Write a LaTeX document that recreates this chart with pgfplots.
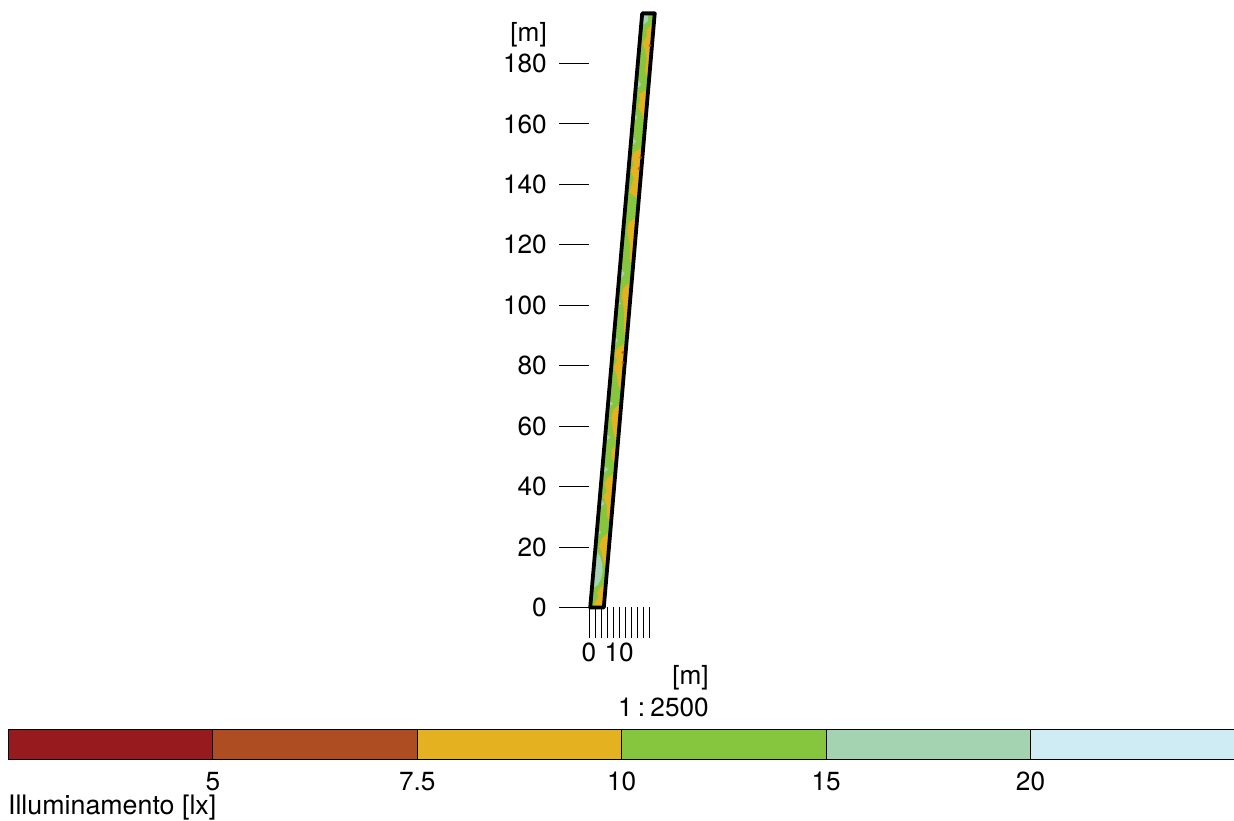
\documentclass[border=0pt]{standalone}
\usepackage{pgfplots}
\pgfplotsset{compat=1.18}
\usepackage{fontspec}
\setmainfont{TeX Gyre Heros}
\definecolor{c1}{HTML}{961A1E}
\definecolor{c2}{HTML}{AE4D22}
\definecolor{c3}{HTML}{E4B121}
\definecolor{c4}{HTML}{86C63F}
\definecolor{c5}{HTML}{A3D3B0}
\definecolor{c6}{HTML}{CFEBF3}
\newcommand{\bigf}{\fontsize{26.2}{31}\selectfont}
\newcommand{\labf}{\fontsize{26.8}{31}\selectfont}
\begin{document}
\begin{tikzpicture}[x=1pt,y=1pt]
\useasboundingbox (0,0) rectangle (1234,821);
\begin{axis}[
  at={(589pt,213.5pt)}, anchor=south west,
  x=3.022pt, y=3.022pt,
  xmin=0, xmax=22, ymin=0, ymax=196.6,
  clip=false,
  axis line style={draw=none},
  tick align=outside, tick pos=left,
  major tick length=30pt,
  tick style={black, line width=1pt},
  xtick={0,2,4,6,8,10,12,14,16,18,20},
  xticklabels={0,,,,,10,,,,,},
  ytick={0,20,40,60,80,100,120,140,160,180},
  /pgf/number format/assume math mode=true,
  tick label style={font=\bigf},
  yticklabel style={inner sep=0pt, xshift=-12pt},
  xticklabel style={inner sep=0pt, yshift=-5.5pt},
]
\addplot[fill=c4, draw=none] coordinates {(0.4,0)(4.9,0)(21.75,196.6)(17.6,196.6)} --cycle;
% orange contours
\addplot[fill=c3, draw=none] coordinates {(21.39,193.6)(19.01,190.9)(19.17,189.0)(17.64,186.6)(18.77,184.3)(19.04,181.7)(18.54,177.7)(19.69,173.7)} --cycle;
\addplot[fill=c3, draw=none] coordinates {(19.52,171.7)(16.53,169.8)(17.03,167.8)(16.19,165.8)(17.62,163.1)(18.47,159.5)} --cycle;
\addplot[fill=c3, draw=none] coordinates {(17.87,152.5)(14.89,150.6)(14.06,148.6)(14.87,146.6)(13.71,144.6)(14.82,142.0)(13.92,139.3)(13.42,137.3)(16.37,135.0)} --cycle;
\addplot[fill=c3, draw=none] coordinates {(15.89,129.4)(13.23,127.4)(12.68,124.8)(13.11,122.1)(13.58,119.8)(13.37,115.5)(14.42,112.2)} --cycle;
\addplot[fill=c3, draw=none] coordinates {(14.07,108.2)(11.36,105.6)(10.80,102.9)(11.27,100.6)(11.67,97.6)(11.5,91.7)(12.38,88.4)} --cycle;
\addplot[fill=c3, draw=none] coordinates {(12.32,87.7)(9.32,85.7)(8.49,83.7)(9.31,81.7)(8.15,79.7)(9.23,76.8)(9.61,73.5)(10.89,71.1)} --cycle;
\addplot[fill=c3, draw=none] coordinates {(10.61,67.8)(7.90,65.2)(7.34,62.5)(7.78,59.9)(8.21,57.2)(9.39,53.6)} --cycle;
\addplot[fill=c3, draw=none] coordinates {(9.48,54.6)(7.43,52.0)(7.54,49.3)(8.83,47.0)} --cycle;
\addplot[fill=c3, draw=none] coordinates {(8.63,44.7)(5.97,42.7)(5.14,40.7)(5.97,38.7)(4.80,36.7)(5.88,33.8)(5.92,30.4)(7.12,27.1)} --cycle;
\addplot[fill=c3, draw=none] coordinates {(6.99,25.5)(4.26,22.8)(3.38,20.2)(4.21,18.2)(4.65,15.6)(5.85,12.2)} --cycle;
\addplot[fill=c3, draw=none] coordinates {(5.48,7.9)(3.7,6.5)(2.7,5.0)(3.1,3.5)(2.0,1.5)(1.4,0)(4.8,0)} --cycle;
% light contours
\addplot[fill=c5, draw=none] coordinates {(17.67,196.2)(19.6,196.2)(19.44,194.0)(17.33,192.3)} --cycle;
\addplot[fill=c5, draw=none] coordinates {(15.81,175.0)(17.27,173.1)(15.47,171.1)} --cycle;
\addplot[fill=c5, draw=none] coordinates {(14.83,163.8)(15.98,162.1)(14.54,160.5)} --cycle;
\addplot[fill=c5, draw=none] coordinates {(14.14,155.9)(15.59,154.2)(13.84,152.5)} --cycle;
\addplot[fill=c5, draw=none] coordinates {(10.34,112.5)(11.79,110.5)(9.97,108.2)} --cycle;
\addplot[fill=c5, draw=none] coordinates {(9.39,101.6)(10.6,100.6)(9.22,99.6)} --cycle;
\addplot[fill=c5, draw=none] coordinates {(8.38,90.0)(9.54,88.4)(8.09,86.7)} --cycle;
\addplot[fill=c5, draw=none] coordinates {(6.49,68.5)(8.01,67.5)(6.29,66.2)} --cycle;
\addplot[fill=c5, draw=none] coordinates {(5.54,57.6)(7.03,56.3)(5.30,54.9)} --cycle;
\addplot[fill=c5, draw=none] coordinates {(4.61,47.0)(6.45,45.7)(4.38,44.3)} --cycle;
\addplot[fill=c5, draw=none] coordinates {(3.66,36.1)(5.11,34.4)(3.37,32.8)} --cycle;
\addplot[fill=c5, draw=none] coordinates {(2.82,26.5)(3.97,24.8)(2.53,23.2)} --cycle;
\addplot[fill=c5, draw=none] coordinates {(2.15,18.9)(3.6,17.0)(4.4,14.5)(4.5,12.0)(4.0,9.5)(3.0,7.5)(1.1,6.3)} --cycle;
% dark spots
\addplot[only marks, mark=*, mark size=1.1pt, color=c2] coordinates {(17.11,148.9)(16.55,145.3)(11.25,84.4)(11.25,81.1)(20.19,186.0)};
% outline
\addplot[draw=black, line width=3.8pt, line join=round] coordinates {(0.4,0)(4.9,0)(21.75,196.6)(17.6,196.6)} --cycle;
\node[anchor=east, inner sep=0pt, font=\bigf] at (axis cs:-13.9,189.6) {[m]};
\node[anchor=east, inner sep=0pt, font=\bigf] at (axis cs:39.7,-23.2) {[m]};
\node[anchor=east, inner sep=0pt, font=\bigf] at (axis cs:39.7,-32.9) {1\hspace{0.2em}:\hspace{0.2em}2500};
\end{axis}
\begin{axis}[
  at={(8.5pt,61pt)}, anchor=south west,
  scale only axis, width=1226.5pt, height=30pt,
  xmin=0, xmax=6, ymin=0, ymax=1,
  clip=false,
  axis line style={draw=none},
  xtick={1,2,3,4,5},
  xticklabels={5,7.5,10,15,20},
  ytick=\empty,
  tick pos=left,
  major tick length=0pt,
  tick label style={font=\bigf},
  xticklabel style={inner sep=0pt, yshift=-12pt},
]
\addplot[fill=c1, draw=black, line width=1pt] coordinates {(0,0)(1,0)(1,1)(0,1)} --cycle;
\addplot[fill=c2, draw=black, line width=1pt] coordinates {(1,0)(2,0)(2,1)(1,1)} --cycle;
\addplot[fill=c3, draw=black, line width=1pt] coordinates {(2,0)(3,0)(3,1)(2,1)} --cycle;
\addplot[fill=c4, draw=black, line width=1pt] coordinates {(3,0)(4,0)(4,1)(3,1)} --cycle;
\addplot[fill=c5, draw=black, line width=1pt] coordinates {(4,0)(5,0)(5,1)(4,1)} --cycle;
\addplot[fill=c6, draw=black, line width=1pt] coordinates {(5,0)(6,0)(6,1)(5,1)} --cycle;
\node[anchor=base west, inner sep=0pt, font=\labf] at (axis cs:-0.003,-1.83) {Illuminamento [lx]};
\end{axis}
\end{tikzpicture}
\end{document}
